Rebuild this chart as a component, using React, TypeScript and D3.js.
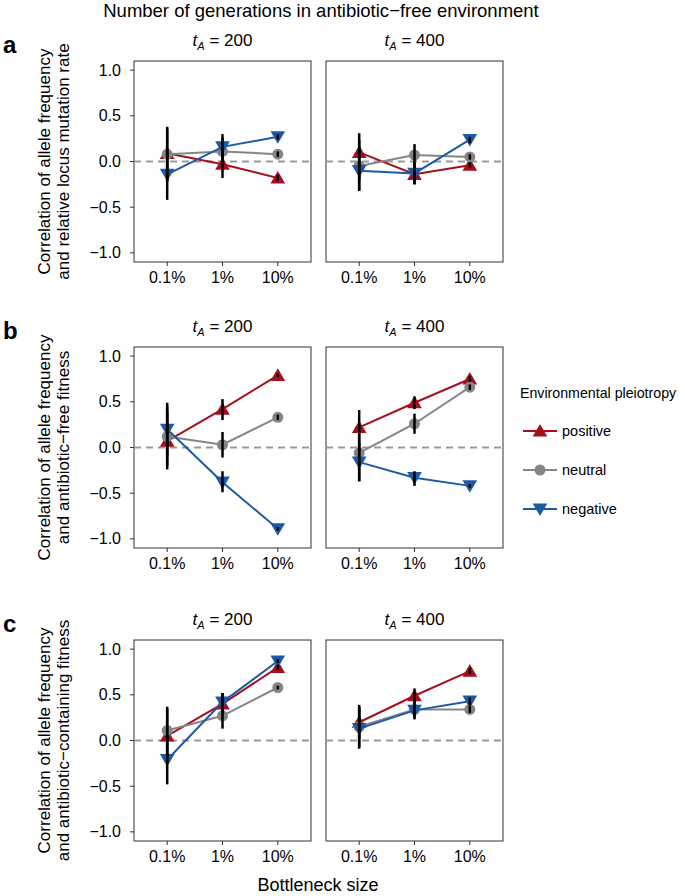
import React from "react";
import * as d3 from "d3";

// bottleneck categories and tick labels
const bottlenecks = ["0.1%", "1%", "10%"];
const yTicks = [-1, -0.5, 0, 0.5, 1];
const tAs = ["200", "400"];
const seriesNames = ["positive", "neutral", "negative"];

// panel a: relative locus mutation rate
const a200_pos = [0.09, -0.03, -0.18];
const a200_pos_lo = [-0.21, -0.18, -0.21];
const a200_pos_hi = [0.38, 0.12, -0.15];
const a200_neu = [0.08, 0.11, 0.08];
const a200_neu_lo = [-0.22, -0.04, 0.05];
const a200_neu_hi = [0.36, 0.26, 0.11];
const a200_neg = [-0.14, 0.16, 0.27];
const a200_neg_lo = [-0.42, 0.02, 0.24];
const a200_neg_hi = [0.14, 0.3, 0.3];

const a400_pos = [0.1, -0.14, -0.04];
const a400_pos_lo = [-0.2, -0.25, -0.07];
const a400_pos_hi = [0.31, -0.03, -0.01];
const a400_neu = [-0.05, 0.07, 0.05];
const a400_neu_lo = [-0.32, -0.06, 0.02];
const a400_neu_hi = [0.24, 0.19, 0.08];
const a400_neg = [-0.1, -0.13, 0.24];
const a400_neg_lo = [-0.32, -0.25, 0.2];
const a400_neg_hi = [0.16, -0.01, 0.27];

// panel b: antibiotic-free fitness
const b200_pos = [0.07, 0.42, 0.79];
const b200_pos_lo = [-0.24, 0.3, 0.77];
const b200_pos_hi = [0.38, 0.53, 0.81];
const b200_neu = [0.12, 0.03, 0.33];
const b200_neu_lo = [-0.2, -0.11, 0.3];
const b200_neu_hi = [0.45, 0.17, 0.36];
const b200_neg = [0.2, -0.38, -0.89];
const b200_neg_lo = [-0.1, -0.49, -0.91];
const b200_neg_hi = [0.49, -0.26, -0.87];

const b400_pos = [0.22, 0.49, 0.75];
const b400_pos_lo = [-0.05, 0.42, 0.72];
const b400_pos_hi = [0.41, 0.56, 0.78];
const b400_neu = [-0.06, 0.26, 0.66];
const b400_neu_lo = [-0.37, 0.15, 0.63];
const b400_neu_hi = [0.22, 0.37, 0.69];
const b400_neg = [-0.16, -0.33, -0.42];
const b400_neg_lo = [-0.37, -0.42, -0.44];
const b400_neg_hi = [0.05, -0.26, -0.4];

// panel c: antibiotic-containing fitness
const c200_pos = [0.05, 0.4, 0.8];
const c200_pos_lo = [-0.25, 0.27, 0.77];
const c200_pos_hi = [0.35, 0.52, 0.83];
const c200_neu = [0.11, 0.27, 0.58];
const c200_neu_lo = [-0.18, 0.13, 0.56];
const c200_neu_hi = [0.37, 0.4, 0.6];
const c200_neg = [-0.21, 0.42, 0.87];
const c200_neg_lo = [-0.48, 0.3, 0.85];
const c200_neg_hi = [0.06, 0.52, 0.89];

const c400_pos = [0.2, 0.49, 0.76];
const c400_pos_lo = [0.02, 0.41, 0.73];
const c400_pos_hi = [0.39, 0.57, 0.79];
const c400_neu = [0.15, 0.34, 0.34];
const c400_neu_lo = [-0.07, 0.25, 0.3];
const c400_neu_hi = [0.37, 0.44, 0.38];
const c400_neg = [0.13, 0.33, 0.43];
const c400_neg_lo = [-0.09, 0.23, 0.39];
const c400_neg_hi = [0.36, 0.43, 0.47];

const colors = { positive: "#a50f1e", neutral: "#858585", negative: "#1c5aa6" };

const rows = [
  {
    letter: "a", top: 61,
    label: ["Correlation of allele frequency", "and relative locus mutation rate"],
    facets: [
      [[a200_pos, a200_pos_lo, a200_pos_hi], [a200_neu, a200_neu_lo, a200_neu_hi], [a200_neg, a200_neg_lo, a200_neg_hi]],
      [[a400_pos, a400_pos_lo, a400_pos_hi], [a400_neu, a400_neu_lo, a400_neu_hi], [a400_neg, a400_neg_lo, a400_neg_hi]],
    ],
  },
  {
    letter: "b", top: 347,
    label: ["Correlation of allele frequency", "and antibiotic\u2212free fitness"],
    facets: [
      [[b200_pos, b200_pos_lo, b200_pos_hi], [b200_neu, b200_neu_lo, b200_neu_hi], [b200_neg, b200_neg_lo, b200_neg_hi]],
      [[b400_pos, b400_pos_lo, b400_pos_hi], [b400_neu, b400_neu_lo, b400_neu_hi], [b400_neg, b400_neg_lo, b400_neg_hi]],
    ],
  },
  {
    letter: "c", top: 640,
    label: ["Correlation of allele frequency", "and antibiotic\u2212containing fitness"],
    facets: [
      [[c200_pos, c200_pos_lo, c200_pos_hi], [c200_neu, c200_neu_lo, c200_neu_hi], [c200_neg, c200_neg_lo, c200_neg_hi]],
      [[c400_pos, c400_pos_lo, c400_pos_hi], [c400_neu, c400_neu_lo, c400_neu_hi], [c400_neg, c400_neg_lo, c400_neg_hi]],
    ],
  },
];

const W = 685, H = 896;
const panelW = 177, panelH = 201;
const panelLefts = [134, 326];
const font = "'Liberation Sans', Arial, sans-serif";

function Marker({ kind, x, y }: { kind: string; x: number; y: number }) {
  const c = (colors as any)[kind];
  if (kind === "neutral") return <circle cx={x} cy={y} r={5.5} fill={c} />;
  const s = 7;
  const pts = kind === "positive"
    ? `${x},${y - s} ${x + s * 1.05},${y + s * 0.8} ${x - s * 1.05},${y + s * 0.8}`
    : `${x},${y + s} ${x + s * 1.05},${y - s * 0.8} ${x - s * 1.05},${y - s * 0.8}`;
  return <polygon points={pts} fill={c} />;
}

function Facet({ left, top, data, tA }: any) {
  const x = d3.scalePoint().domain(bottlenecks).range([left, left + panelW]).padding(0.6);
  const y = d3.scaleLinear().domain([-1.1, 1.1]).range([top + panelH, top]);
  const line = d3.line<number>().x((d, i) => x(bottlenecks[i])!).y(d => y(d));
  return (
    <g>
      <text x={left + panelW / 2} y={top - 15} textAnchor="middle" fontSize={17}>
        <tspan fontStyle="italic">t</tspan>
        <tspan fontStyle="italic" fontSize={11} dy={4}>A</tspan>
        <tspan dy={-4}>{" = " + tA}</tspan>
      </text>
      <rect x={left} y={top} width={panelW} height={panelH} fill="white" stroke="#333" strokeWidth={1} />
      <line x1={left} x2={left + panelW} y1={y(0)} y2={y(0)} stroke="#999" strokeWidth={2} strokeDasharray="7,5" />
      {data.map((s: number[][], si: number) => (
        <g key={si}>
          <path d={line(s[0])!} fill="none" stroke={(colors as any)[seriesNames[si]]} strokeWidth={2} />
          {s[0].map((v, i) => <Marker key={i} kind={seriesNames[si]} x={x(bottlenecks[i])!} y={y(v)} />)}
        </g>
      ))}
      {data.map((s: number[][], si: number) =>
        s[0].map((v, i) => (
          <line key={`${si}-${i}`} x1={x(bottlenecks[i])} x2={x(bottlenecks[i])} y1={y(s[1][i])} y2={y(s[2][i])} stroke="black" strokeWidth={2.5} />
        ))
      )}
      {bottlenecks.map(b => (
        <g key={b}>
          <line x1={x(b)} x2={x(b)} y1={top + panelH} y2={top + panelH + 4} stroke="#333" />
          <text x={x(b)} y={top + panelH + 21} textAnchor="middle" fontSize={16}>{b}</text>
        </g>
      ))}
    </g>
  );
}

export default function App() {
  return (
    <svg width={W} height={H} style={{ position: "absolute", left: 0, top: 0, fontFamily: font }} fontFamily={font}>
      <rect width={W} height={H} fill="white" />
      <text x={321} y={17} textAnchor="middle" fontSize={18.5}>Number of generations in antibiotic{"\u2212"}free environment</text>
      {rows.map(r => {
        const y = d3.scaleLinear().domain([-1.1, 1.1]).range([r.top + panelH, r.top]);
        const midY = r.top + panelH / 2;
        return (
          <g key={r.letter}>
            <text x={3} y={r.top - 8} fontSize={24} fontWeight="bold">{r.letter}</text>
            <text transform={`translate(50,${midY}) rotate(-90)`} textAnchor="middle" fontSize={17}>{r.label[0]}</text>
            <text transform={`translate(69,${midY}) rotate(-90)`} textAnchor="middle" fontSize={17}>{r.label[1]}</text>
            {yTicks.map(t => (
              <g key={t}>
                <line x1={130} x2={134} y1={y(t)} y2={y(t)} stroke="#333" />
                <text x={121} y={y(t) + 5.5} textAnchor="end" fontSize={16}>{d3.format(".1f")(t).replace("-", "\u2212")}</text>
              </g>
            ))}
            {r.facets.map((f, fi) => (
              <Facet key={fi} left={panelLefts[fi]} top={r.top} data={f} tA={tAs[fi]} />
            ))}
          </g>
        );
      })}
      <text x={318} y={891} textAnchor="middle" fontSize={18}>Bottleneck size</text>
      <g>
        <text x={520} y={398} fontSize={14.2}>Environmental pleiotropy</text>
        {seriesNames.map((s, i) => {
          const cy = 431 + i * 39;
          return (
            <g key={s}>
              <line x1={523} x2={557} y1={cy} y2={cy} stroke={(colors as any)[s]} strokeWidth={2} />
              <Marker kind={s} x={540} y={cy} />
              <text x={562} y={cy + 5} fontSize={14.5}>{s}</text>
            </g>
          );
        })}
      </g>
    </svg>
  );
}
